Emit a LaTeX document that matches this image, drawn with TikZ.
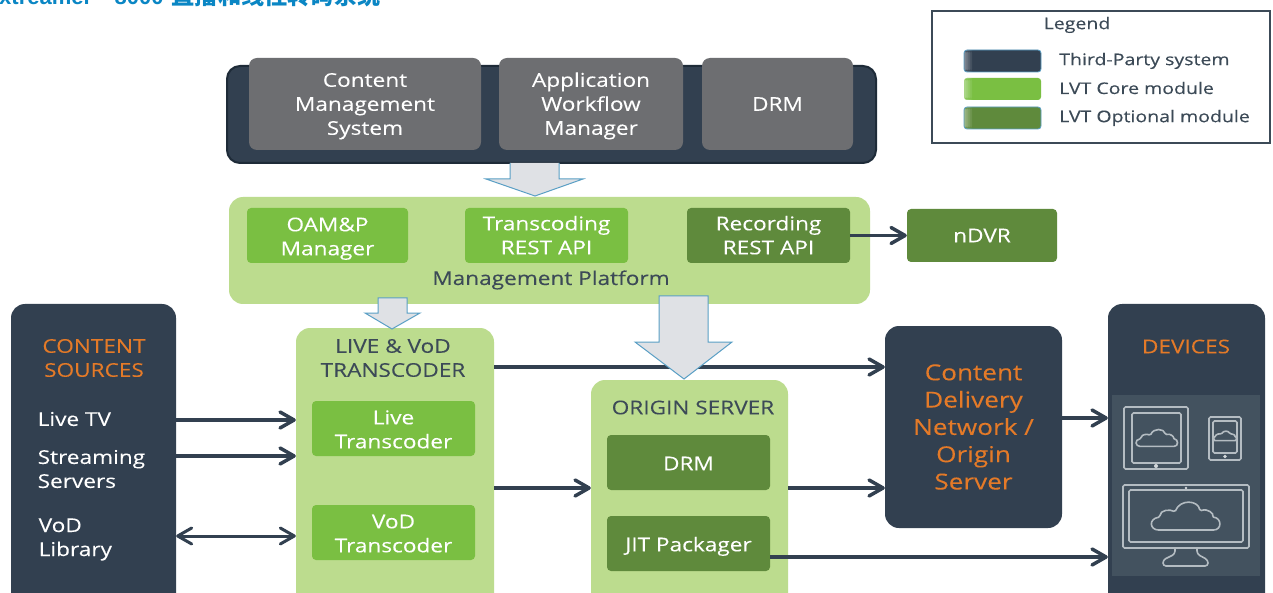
\documentclass[tikz,border=0pt]{standalone}
\usepackage{fontspec}
\setmainfont[FakeStretch=1.19,FakeBold=0.12]{Open Sans}
\newfontfamily\legendfont[FakeStretch=1.22,FakeBold=0.3]{Open Sans}
\newfontfamily\titlefont{Liberation Sans}
\newfontfamily\cjkfont{Noto Sans CJK SC}
\usetikzlibrary{arrows.meta,positioning,calc}
\definecolor{darkbox}{HTML}{324050}
\definecolor{darkedge}{HTML}{1E2B38}
\definecolor{greycard}{HTML}{6D6E71}
\definecolor{core}{HTML}{7ABF42}
\definecolor{optional}{HTML}{5F8A3C}
\definecolor{lightgreen}{HTML}{BCDC8E}
\definecolor{orangetxt}{HTML}{E47A28}
\definecolor{inktxt}{HTML}{3C4A57}
\definecolor{panel}{HTML}{43525F}
\definecolor{iconline}{HTML}{B4BCC2}
\definecolor{arrowfill}{HTML}{DFE1E5}
\definecolor{arrowedge}{HTML}{5A9FC5}
\definecolor{titleblue}{HTML}{0A86C4}
\newcommand{\tl}[2]{\raisebox{-#1pt}[\height][\depth]{\begin{tabular}{@{}c@{}}#2\end{tabular}}}
\newcommand{\cloudicon}[3]{\begin{scope}[shift={(#1,#2)},scale=#3]
\draw[iconstroke] (-26,14) .. controls (-36,14) and (-38,3) .. (-26,1) .. controls (-26,-6) and (-16,-7) .. (-11,-4) .. controls (-6,-17) and (12,-16) .. (14,-5) .. controls (22,-8) and (28,-2) .. (26,1) .. controls (36,2) and (36,14) .. (26,14) -- cycle;
\end{scope}}
\tikzset{
  x=1pt,y=-1pt,
  bx/.style n args={4}{at={({(#1+#3)/2},{(#2+#4)/2})},minimum width={(#3-#1)*1pt},minimum height={(#4-#2)*1pt}},
  card/.style={rectangle,rounded corners=#1,inner sep=0pt,align=center,font=\fontsize{19}{24}\selectfont,text=white},
  card/.default=5pt,
  greybox/.style={card=8pt,fill=greycard},
  corebox/.style={card=4pt,fill=core},
  optbox/.style={card=4pt,fill=optional},
  container/.style={card=14pt,fill=lightgreen,text=inktxt},
  darkpanel/.style={card=14pt,fill=darkbox},
  orangelabel/.style={inner sep=0pt,align=center,text=orangetxt,font=\fontsize{19}{24}\selectfont},
  whitelabel/.style={inner sep=0pt,align=left,text=white,font=\fontsize{19}{24}\selectfont},
  inklabel/.style={inner sep=0pt,align=center,text=inktxt,font=\fontsize{19}{24}\selectfont},
  legendlabel/.style={inner sep=0pt,anchor=west,text=inktxt,font=\legendfont\fontsize{16}{20}\selectfont},
  swatch/.style={rectangle,rounded corners=3pt,inner sep=0pt,fill=#1,path picture={
    \foreach \sx/\so in {0/.36,2/.27,4/.18,6/.09}{
      \fill[white,opacity=\so] ([xshift=\sx pt]path picture bounding box.south west) rectangle ([xshift={\sx pt+2pt}]path picture bounding box.north west);}}},
  conn/.style={draw=darkbox,line width=3.5pt,-{Straight Barb[length=14pt,width=16pt,line width=3.5pt,round]}},
  connboth/.style={draw=darkbox,line width=3pt,{Straight Barb[length=14pt,width=16pt,line width=3pt,round]}-{Straight Barb[length=14pt,width=16pt,line width=3pt,round]}},
  blockarrow/.style={fill=arrowfill,draw=arrowedge,line width=1pt,line join=miter},
  iconstroke/.style={draw=iconline,line width=1.6pt,rounded corners=1.5pt}
}
\begin{document}
\begin{tikzpicture}
\useasboundingbox (0,0) rectangle (1273,593);
\clip (0,0) rectangle (1273,593);
\fill[white] (0,0) rectangle (1273,593);

% title, cut off by the top edge
\node[anchor=base west,inner sep=0pt,text=titleblue] (title) at (-1,5)
  {\fontsize{22}{24}\selectfont\titlefont\bfseries xtreamer - \hspace{3pt}8000 \hspace{2pt}\fontsize{23.2}{24}\selectfont\cjkfont\bfseries 直播和线性转码系统};

% third-party back plate
\node[card=13pt,fill=darkbox,draw=darkedge,line width=2pt,bx={227}{66}{876}{163}] (back) {};
\node[greybox,bx={249}{58}{481}{150}] (cms) {\tl{2}{Content\\Management\\System}};
\node[greybox,bx={499}{58}{683}{150}] (awm) {\tl{2}{Application\\Workflow\\Manager}};
\node[greybox,bx={702}{58}{853}{150}] (drmtop) {DRM};

% management platform
\node[container,bx={229}{197}{870}{304}] (mgmt) {};
\node[corebox,bx={247}{208}{408}{263}] (oam) {\tl{3}{OAM\&P\\Manager}};
\node[corebox,bx={465}{208}{628}{263}] (trest) {\tl{2}{Transcoding\\REST API}};
\node[optbox,bx={687}{208}{850}{263}] (rrest) {\tl{2}{Recording\\REST API}};
\node[inklabel,anchor=center] (mgmtlabel) at (551,280) {Management Platform};
\node[optbox,bx={907}{209}{1057}{262}] (ndvr) {nDVR};

% content sources
\node[darkpanel,bx={11}{304}{176}{620}] (src) {};
\node[orangelabel] (srctitle) at (94,358) {CONTENT\\SOURCES};
\node[whitelabel,anchor=west] (livetv) at (37.5,419) {Live TV};
\node[whitelabel,anchor=west] (stream) at (37.5,469) {Streaming\\Servers};
\node[whitelabel,anchor=west] (vod) at (38.5,539.5) {VoD\\Library};

% transcoder
\node[container,bx={296}{328}{494}{620}] (lvt) {};
\node[inklabel] (lvttitle) at (393,358) {LIVE \& VoD\\TRANSCODER};
\node[corebox,bx={312}{401}{475}{456}] (livet) {\tl{3}{Live\\Transcoder}};
\node[corebox,bx={312}{505}{475}{560}] (vodt) {\tl{3}{VoD\\Transcoder}};

% origin server
\node[container,bx={591}{380}{788}{620}] (origin) {};
\node[inklabel] (origintitle) at (693,407.5) {ORIGIN SERVER};
\node[optbox,bx={607}{435}{770}{490}] (drm) {\tl{3}{DRM}};
\node[optbox,bx={607}{516}{770}{571}] (jit) {\tl{3}{JIT Packager}};

% CDN
\node[darkpanel,bx={885}{326}{1062}{528},text=orangetxt,font=\fontsize{22}{27.3}\selectfont] (cdn) {Content\\Delivery\\Network /\\Origin\\Server};

% devices
\node[darkpanel,bx={1108}{304}{1265}{620}] (dev) {};
\node[orangelabel] (devtitle) at (1186,346.5) {DEVICES};
\fill[panel] (1112,395) rectangle (1260,576);
\draw[iconstroke] (1124,407) rectangle (1188,469);
\draw[iconstroke] (1132,413) rectangle (1181,463);
\fill[iconline!60!white] (1156,466) circle (2pt);
\cloudicon{1157}{438}{.6}
\draw[iconstroke] (1209,417) rectangle (1241,460);
\draw[iconstroke] (1213,421) rectangle (1237,453);
\fill[iconline!60!white] (1225,456.5) circle (1.8pt);
\cloudicon{1225}{436}{.33}
\draw[iconstroke] (1123,485) rectangle (1249,548);
\draw[iconstroke] (1129,490) rectangle (1243,542);
\fill[iconline!60!white] (1186,488) circle (1.4pt);
\cloudicon{1186}{516}{1}
\draw[iconstroke,rounded corners=3pt] (1175,548) -- (1175,554) -- (1163,560) -- (1163,566) -- (1208,566) -- (1208,560) -- (1197,554) -- (1197,548);

% connector levels
\coordinate (ylvtcdn) at (0,367);
\coordinate (ylive) at (0,420);
\coordinate (ystream) at (0,456);
\coordinate (yvod) at (0,536);
\coordinate (ymid) at (0,488);
\coordinate (ycdn) at (0,418);
\coordinate (yjit) at (0,557);

% line connectors
\draw[conn] (rrest.east) -- (ndvr.west |- rrest.east);
\draw[conn] (src.east |- ylive) -- (lvt.west |- ylive);
\draw[conn] (src.east |- ystream) -- (lvt.west |- ystream);
\draw[connboth] (src.east |- yvod) -- (lvt.west |- yvod);
\draw[conn] (lvt.east |- ylvtcdn) -- (cdn.west |- ylvtcdn);
\draw[conn] (lvt.east |- ymid) -- (origin.west |- ymid);
\draw[conn] (origin.east |- ymid) -- (cdn.west |- ymid);
\draw[conn] (cdn.east |- ycdn) -- (dev.west |- ycdn);
\draw[conn] (jit.east |- yjit) -- (dev.west |- yjit);

% block arrows
\draw[blockarrow] (510,163) -- (510,179) -- (486,179) -- (535,196) -- (583,179) -- (559,179) -- (559,163);
\draw[blockarrow] (378,298) -- (378,313) -- (365,313) -- (392,329) -- (420,313) -- (407,313) -- (407,298) -- cycle;
\draw[blockarrow] (659,296) -- (659,342) -- (635,342) -- (684,379) -- (732,342) -- (708,342) -- (708,296) -- cycle;

% legend
\draw[draw=inktxt,line width=2pt] (932,11) rectangle (1270,143);
\node[inner sep=0pt,text=inktxt,font=\legendfont\fontsize{16}{20}\selectfont] (legendtitle) at (1077,25) {Legend};
\node[swatch=darkbox,draw=arrowedge,line width=.8pt,bx={964}{50}{1041}{72}] (s1) {};
\node[swatch=core,bx={964}{78}{1041}{100}] (s2) {};
\node[swatch=optional,draw=arrowedge,line width=.8pt,bx={964}{107}{1041}{129}] (s3) {};
\node[legendlabel] (l1) at (1059,61) {Third-Party system};
\node[legendlabel] (l2) at (1059,88) {LVT Core module};
\node[legendlabel] (l3) at (1059,118) {LVT Optional module};
\end{tikzpicture}
\end{document}
